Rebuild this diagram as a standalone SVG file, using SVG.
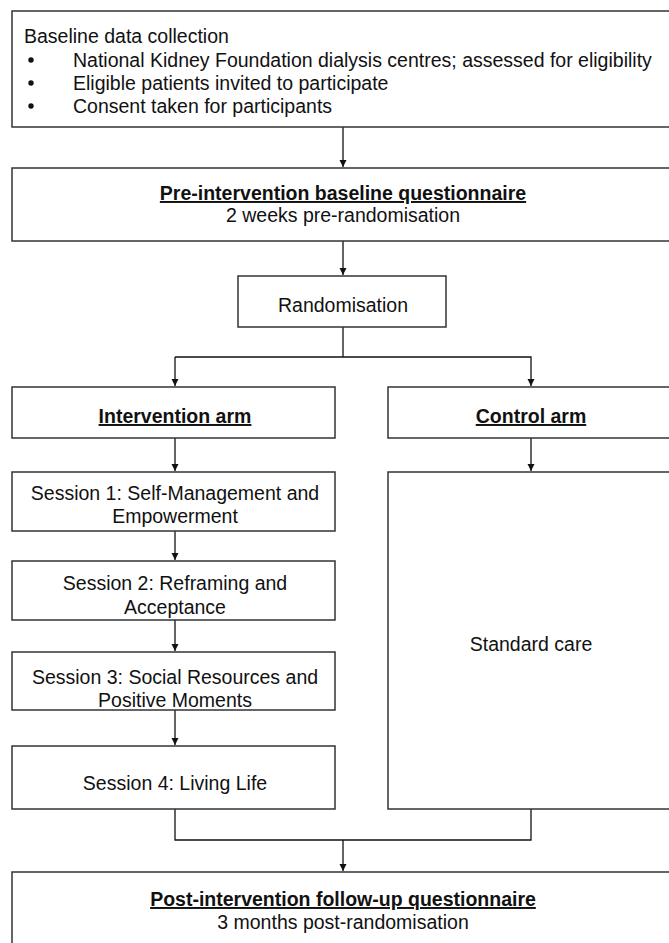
<svg xmlns="http://www.w3.org/2000/svg" width="669" height="943" viewBox="0 0 669 943">
<defs>
<marker id="ah" viewBox="0 0 10 10" refX="10" refY="5" markerWidth="7" markerHeight="8" markerUnits="userSpaceOnUse" orient="auto">
<path d="M0,0 L10,5 L0,10 z" fill="#111"/>
</marker>
<style>
.box{fill:#fff;stroke:#333;stroke-width:1.5}
.t{font-family:"Liberation Sans",Arial,sans-serif;font-size:19.5px;fill:#111}
.c{text-anchor:middle}
.b{font-weight:bold;text-decoration:underline}
.ln{fill:none;stroke:#111;stroke-width:1.3}
</style>
</defs>
<rect width="669" height="943" fill="#fff"/>
<g id="connectors">
<line class="ln" x1="343" y1="127" x2="343" y2="167" marker-end="url(#ah)"/>
<line class="ln" x1="343" y1="241" x2="343" y2="275" marker-end="url(#ah)"/>
<polyline class="ln" points="343,327 343,357"/>
<polyline class="ln" points="175,357 531,357 531,386" marker-end="url(#ah)"/>
<line class="ln" x1="175" y1="357" x2="175" y2="386" marker-end="url(#ah)"/>
<line class="ln" x1="175" y1="438" x2="175" y2="471" marker-end="url(#ah)"/>
<line class="ln" x1="531" y1="438" x2="531" y2="471" marker-end="url(#ah)"/>
<line class="ln" x1="175" y1="531" x2="175" y2="560" marker-end="url(#ah)"/>
<line class="ln" x1="175" y1="620" x2="175" y2="651" marker-end="url(#ah)"/>
<line class="ln" x1="175" y1="710" x2="175" y2="745" marker-end="url(#ah)"/>
<polyline class="ln" points="175,809 175,840 531,840 531,809"/>
<line class="ln" x1="343" y1="840" x2="343" y2="871" marker-end="url(#ah)"/>
</g>
<g id="baseline">
<rect class="box" x="12" y="11" width="670" height="116"/>
<text class="t" x="24" y="43">Baseline data collection</text>
<circle cx="31" cy="60" r="2.7" fill="#111"/>
<circle cx="31" cy="83" r="2.7" fill="#111"/>
<circle cx="31" cy="106" r="2.7" fill="#111"/>
<text class="t" x="73" y="67">National Kidney Foundation dialysis centres; assessed for eligibility</text>
<text class="t" x="73" y="90">Eligible patients invited to participate</text>
<text class="t" x="73" y="113">Consent taken for participants</text>
</g>
<g id="pre">
<rect class="box" x="12" y="168" width="670" height="73"/>
<text class="t c b" x="343" y="200">Pre-intervention baseline questionnaire</text>
<text class="t c" x="343" y="222">2 weeks pre-randomisation</text>
</g>
<g id="rand">
<rect class="box" x="238" y="276" width="208" height="51"/>
<text class="t c" x="343" y="312">Randomisation</text>
</g>
<g id="intarm">
<rect class="box" x="12" y="387" width="323" height="51"/>
<text class="t c b" x="175" y="423">Intervention arm</text>
</g>
<g id="ctrlarm">
<rect class="box" x="388" y="387" width="294" height="51"/>
<text class="t c b" x="531" y="423">Control arm</text>
</g>
<g id="s1">
<rect class="box" x="12" y="472" width="323" height="59"/>
<text class="t c" x="175" y="500">Session 1: Self-Management and</text>
<text class="t c" x="175" y="523">Empowerment</text>
</g>
<g id="s2">
<rect class="box" x="12" y="561" width="323" height="59"/>
<text class="t c" x="175" y="590">Session 2: Reframing and</text>
<text class="t c" x="175" y="614">Acceptance</text>
</g>
<g id="s3">
<rect class="box" x="12" y="652" width="323" height="58"/>
<text class="t c" x="175" y="684">Session 3: Social Resources and</text>
<text class="t c" x="175" y="707">Positive Moments</text>
</g>
<g id="s4">
<rect class="box" x="12" y="746" width="323" height="63"/>
<text class="t c" x="175" y="790">Session 4: Living Life</text>
</g>
<g id="std">
<rect class="box" x="388" y="472" width="294" height="337"/>
<text class="t c" x="531" y="651">Standard care</text>
</g>
<g id="post">
<rect class="box" x="12" y="872" width="670" height="90"/>
<text class="t c b" x="343" y="906">Post-intervention follow-up questionnaire</text>
<text class="t c" x="343" y="929">3 months post-randomisation</text>
</g>
</svg>
